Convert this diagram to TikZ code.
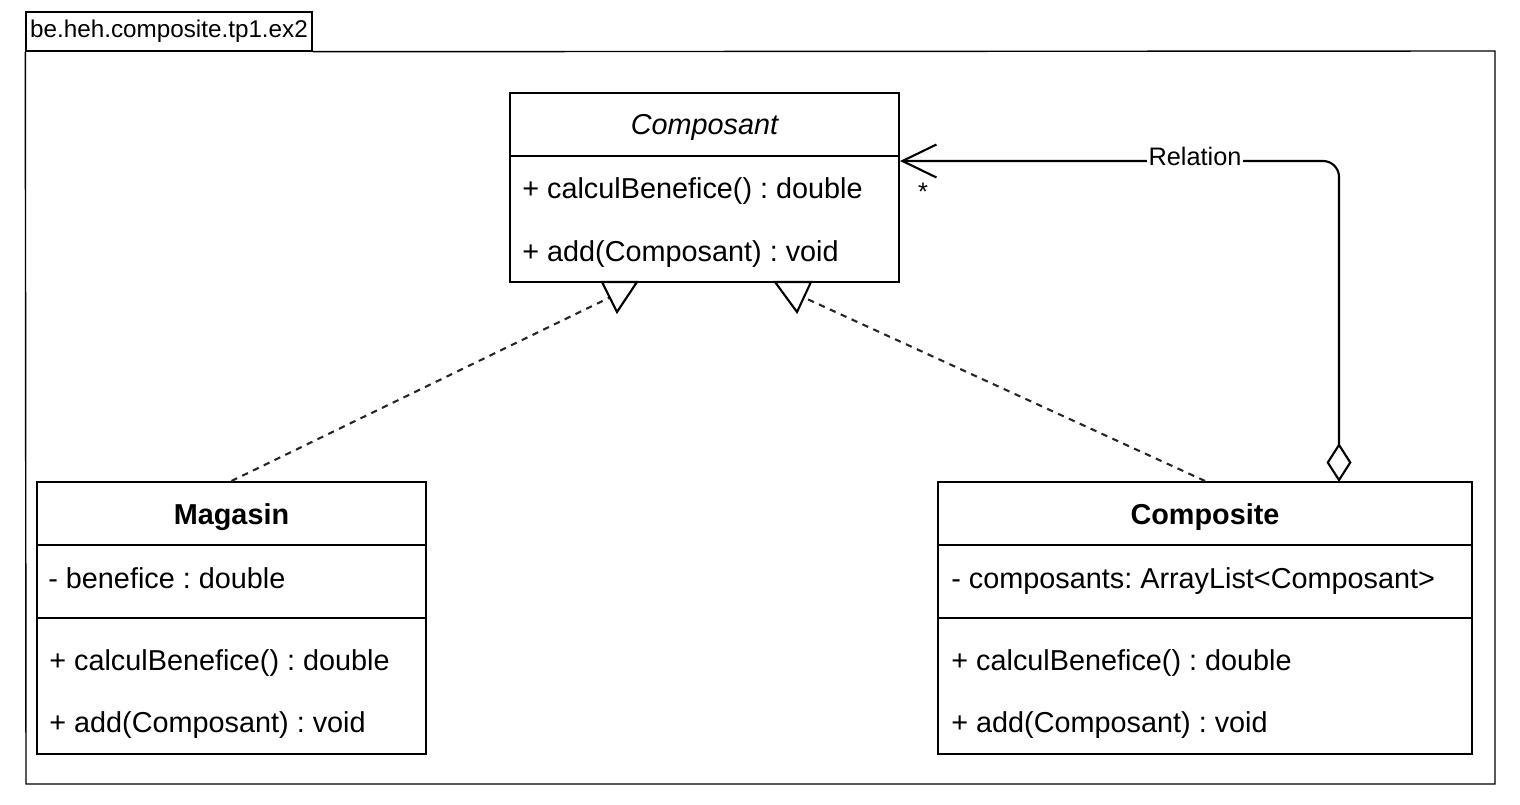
\documentclass[tikz,border=0pt]{standalone}
\usepackage{fontspec}
\setmainfont{Liberation Sans}
\usetikzlibrary{arrows.meta}
\frenchspacing

\begin{document}
\begin{tikzpicture}[x=0.02cm, y=-0.02cm,
  classbox/.style={draw, line width=1.2pt, inner sep=0pt, fill=white},
  member/.style={anchor=west, inner sep=0pt, font=\fontsize{16.4}{19}\selectfont,
                 text height=0.72em, text depth=0.22em, yshift=-0.12cm},
  title/.style={inner sep=0pt, font=\fontsize{16.4}{19}\selectfont,
                 text height=0.72em, text depth=0.22em, yshift=-0.1cm},
  realize/.style={draw, dashed, dash pattern=on 3.6pt off 3.2pt, line width=1.2pt, black!85},
  hollowtri/.style={draw, fill=white, line width=1.2pt, line join=miter},
  relation/.style={draw, line width=1.2pt, rounded corners=0.32cm},
  pkg/.style={draw, line width=0.8pt, inner sep=0pt}]

\useasboundingbox (0,0) rectangle (1520,804);

% package frame and its name tab
\node[pkg, minimum width=5.72cm, minimum height=0.78cm,
      font=\fontsize{13.8}{16}\selectfont] (pkgtab) at (169,31.5) {be.heh.composite.tp1.ex2};
\draw[line width=0.8pt] (pkgtab.south west) -- (26,784) -- (1495,784) -- (1495,51) -- (pkgtab.south east);

% class Composant (abstract)
\node[classbox, minimum width=7.78cm, minimum height=3.78cm] (comp) at (704.5,187.5) {};
\draw[line width=1.2pt] (510,156) -- (899,156);
\node[title, font=\fontsize{16.4}{19}\selectfont\itshape] (compT) at (704.5,125) {Composant};
\node[member] (compM1) at (522,188) {+ calculBenefice() : double};
\node[member] (compM2) at (522,251) {+ add(Composant) : void};

% class Magasin
\node[classbox, minimum width=7.78cm, minimum height=5.44cm] (mag) at (231.5,618) {};
\draw[line width=1.2pt] (37,545) -- (426,545);
\draw[line width=1.2pt] (37,618) -- (426,618);
\node[title, font=\fontsize{16.4}{19}\selectfont\bfseries] (magT) at (231.5,515) {Magasin};
\node[member] (magA1) at (48,578) {- benefice : double};
\node[member] (magM1) at (49,660) {+ calculBenefice() : double};
\node[member] (magM2) at (49,722) {+ add(Composant) : void};

% class Composite
\node[classbox, minimum width=10.68cm, minimum height=5.44cm] (cps) at (1205,618) {};
\draw[line width=1.2pt] (938,545) -- (1472,545);
\draw[line width=1.2pt] (938,618) -- (1472,618);
\node[title, font=\fontsize{16.4}{19}\selectfont\bfseries] (cpsT) at (1205,515) {Composite};
\node[member] (cpsA1) at (951,578) {- composants: ArrayList<Composant>};
\node[member] (cpsM1) at (951,660) {+ calculBenefice() : double};
\node[member] (cpsM2) at (951,722) {+ add(Composant) : void};

% realization: Magasin -> Composant
\coordinate (triL) at (619,293);
\draw[realize] (mag.north) -- (triL);
\draw[hollowtri] (602,282) -- (637,282) -- (617,312) -- cycle;

% realization: Composite -> Composant
\coordinate (triR) at (794,293);
\draw[realize] (cps.north) -- (triR);
\draw[hollowtri] (775,282) -- (811,282) -- (797,312) -- cycle;

% aggregation: Composite <>--> Composant
\coordinate (aggr) at (1339,482);
\draw[relation, {Diamond[open, length=0.78cm, width=0.5cm, line width=1.2pt]}-{Straight Barb[length=0.68cm, width=0.66cm, line width=1.2pt]}]
  (aggr) -- (1339,161) -- (comp.east |- 0,161);
\node[fill=white, inner sep=1pt, font=\fontsize{14.4}{16}\selectfont] (rel) at (1195,156) {Relation};
\node[inner sep=0pt, font=\fontsize{14.4}{16}\selectfont] (mult) at (923,192) {*};

\end{tikzpicture}
\end{document}
